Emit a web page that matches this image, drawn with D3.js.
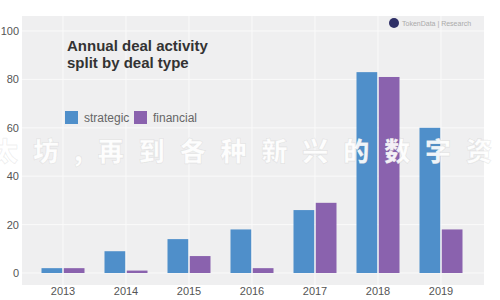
<!DOCTYPE html>
<html>
<head>
<meta charset="utf-8">
<script src="https://cdn.jsdelivr.net/npm/d3@7"></script>
<style>
  html, body { margin: 0; padding: 0; background: #fff; }
  svg { display: block; font-family: "Liberation Sans", "DejaVu Sans", sans-serif; }
</style>
</head>
<body>
<div id="chart"></div>
<script>
// Annual deal activity, split by deal type
const years = ['2013', '2014', '2015', '2016', '2017', '2018', '2019'];
const seriesNames = ['strategic', 'financial'];
const strategic = [2, 9, 14, 18, 26, 83, 60];
const financial = [2, 1, 7, 2, 29, 81, 18];
const yTicks = [0, 20, 40, 60, 80, 100];

const COLORS = { strategic: '#4f8fca', financial: '#8a62ae' };

const width = 500, height = 300;

const svg = d3.select('#chart')
    .append('svg')
    .attr('width', width)
    .attr('height', height);

// Plot background
svg.append('rect')
    .attr('x', 22).attr('y', 16)
    .attr('width', 462).attr('height', 269)
    .attr('fill', '#efeff0');

const x = d3.scaleBand()
    .domain(years)
    .range([31.5, 472.5]);

const xSub = d3.scaleBand()
    .domain(seriesNames)
    .range([10, 53])
    .paddingInner(0.07);

const y = d3.scaleLinear()
    .domain([0, 100])
    .range([273, 31]);

// Gridlines
svg.append('g')
    .selectAll('line')
    .data(yTicks)
    .join('line')
    .attr('x1', 22).attr('x2', 484)
    .attr('y1', d => y(d)).attr('y2', d => y(d))
    .attr('stroke', '#fafafa')
    .attr('stroke-width', 1);

svg.append('g')
    .selectAll('line')
    .data(years)
    .join('line')
    .attr('x1', d => x(d) + x.bandwidth() / 2)
    .attr('x2', d => x(d) + x.bandwidth() / 2)
    .attr('y1', 16).attr('y2', 285)
    .attr('stroke', '#fafafa')
    .attr('stroke-width', 1);

// Axes (labels only)
const yAxis = svg.append('g')
    .attr('transform', 'translate(19,0)')
    .call(d3.axisLeft(y).tickValues(yTicks).tickSize(0).tickPadding(0));
yAxis.select('.domain').remove();
yAxis.selectAll('text')
    .attr('font-size', '11px')
    .attr('fill', '#555')
    .attr('font-family', '"Liberation Sans", sans-serif');

const xAxis = svg.append('g')
    .attr('transform', 'translate(0,287)')
    .call(d3.axisBottom(x).tickSize(0).tickPadding(0));
xAxis.select('.domain').remove();
xAxis.selectAll('text')
    .attr('font-size', '11px')
    .attr('fill', '#555')
    .attr('font-family', '"Liberation Sans", sans-serif');

// Bars
const rows = years.map((yr, i) => ({ year: yr, strategic: strategic[i], financial: financial[i] }));

svg.append('g')
    .selectAll('g')
    .data(rows)
    .join('g')
    .attr('transform', d => `translate(${x(d.year)},0)`)
    .selectAll('rect')
    .data(d => seriesNames.map(k => ({ key: k, value: d[k] })))
    .join('rect')
    .attr('x', d => xSub(d.key))
    .attr('width', xSub.bandwidth())
    .attr('y', d => y(d.value))
    .attr('height', d => y(0) - y(d.value))
    .attr('fill', d => COLORS[d.key]);

// Title
const title = svg.append('text')
    .attr('x', 67).attr('y', 51)
    .attr('font-size', '15px')
    .attr('font-weight', '700')
    .attr('fill', '#333');
title.append('tspan').attr('x', 67).text('Annual deal activity');
title.append('tspan').attr('x', 67).attr('dy', 17).text('split by deal type');

// Legend
const legend = svg.append('g').attr('transform', 'translate(65,111)');
const legendItems = legend.selectAll('g')
    .data(seriesNames)
    .join('g')
    .attr('transform', (d, i) => `translate(${i * 69},0)`);
legendItems.append('rect')
    .attr('width', 13).attr('height', 13)
    .attr('fill', d => COLORS[d]);
legendItems.append('text')
    .attr('x', 19).attr('y', 11)
    .attr('font-size', '12px')
    .attr('fill', '#666')
    .text(d => d);

// Source mark, top right
svg.append('circle')
    .attr('cx', 394).attr('cy', 23).attr('r', 5)
    .attr('fill', '#2e2f66');
svg.append('text')
    .attr('x', 402).attr('y', 25.5)
    .attr('font-size', '7px')
    .attr('fill', '#aaa')
    .text('TokenData | Research');

// Overlay caption (white brush text across the chart)
svg.append('text')
    .attr('x', -8).attr('y', 161)
    .attr('textLength', 500)
    .attr('lengthAdjust', 'spacing')
    .attr('font-family', '"Noto Sans CJK SC", sans-serif')
    .attr('font-size', '26px')
    .attr('font-weight', '900')
    .attr('fill', '#ffffff')
    .attr('fill-opacity', 0.93)
    .attr('stroke', 'rgba(120,120,120,0.12)')
    .attr('stroke-width', 1)
    .text('太坊,再到各种新兴的数字资');
</script>
</body>
</html>
